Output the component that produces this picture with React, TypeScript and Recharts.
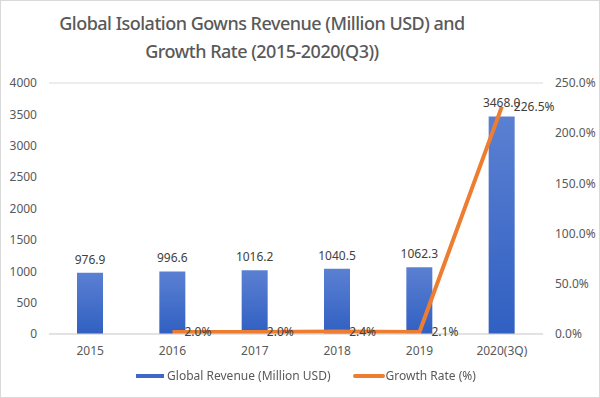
import { ComposedChart, Bar, Line, XAxis, YAxis, CartesianGrid, LabelList } from "recharts";

const years = ["2015", "2016", "2017", "2018", "2019", "2020(3Q)"];
const revenue = [976.9, 996.6, 1016.2, 1040.5, 1062.3, 3468.0];
const growth = [null, 2.0, 2.0, 2.4, 2.1, 226.5];
const leftTicks = [0, 500, 1000, 1500, 2000, 2500, 3000, 3500, 4000];
const rightTicks = [0, 50, 100, 150, 200, 250];

const data = years.map((y, i) => ({ year: y, revenue: revenue[i], growth: growth[i] }));

const FONT = "'Noto Sans', 'Liberation Sans', sans-serif";
const TXT = "#595959";

export default function App() {
  return (
    <div style={{ position: "fixed", left: 0, top: 0, width: 598, height: 396, border: "1px solid #d9d9d9", background: "#fff", fontFamily: FONT }}>
      <div style={{ position: "absolute", top: 8, left: 0, width: 522, textAlign: "center", fontSize: 18, fontWeight: 500, letterSpacing: -0.5, color: TXT, lineHeight: "28px" }}>
        Global Isolation Gowns Revenue (Million USD) and<br />Growth Rate (2015-2020(Q3))
      </div>
      <ComposedChart width={598} height={396} data={data} margin={{ top: 82, right: 0, bottom: 43, left: 0 }}>
        <defs>
          <linearGradient id="barGrad" x1="0" y1="0" x2="0" y2="1">
            <stop offset="0%" stopColor="#5b80d2" />
            <stop offset="100%" stopColor="#3060c2" />
          </linearGradient>
        </defs>
        <CartesianGrid vertical={false} stroke="#d9d9d9" />
        <XAxis dataKey="year" axisLine={{ stroke: "#d9d9d9" }} tickLine={false} tick={{ fill: TXT, fontSize: 12, fontFamily: FONT }} tickMargin={6} height={20} />
        <YAxis yAxisId="l" domain={[0, 4000]} ticks={leftTicks} axisLine={false} tickLine={false} width={48} tick={{ fill: TXT, fontSize: 12, fontFamily: FONT }} tickMargin={6} />
        <YAxis yAxisId="r" orientation="right" domain={[0, 250]} ticks={rightTicks} axisLine={false} tickLine={false} width={56} tick={{ fill: TXT, fontSize: 12, fontFamily: FONT }} tickMargin={6} tickFormatter={(v: number) => `${v.toFixed(1)}%`} />
        <Bar yAxisId="l" dataKey="revenue" barSize={26} fill="url(#barGrad)" isAnimationActive={false}>
          <LabelList dataKey="revenue" position="top" offset={9} fill="#404040" fontSize={12} fontFamily={FONT} formatter={(v: number) => v.toFixed(1)} />
        </Bar>
        <Line yAxisId="r" dataKey="growth" stroke="#ed7d31" strokeWidth={4} dot={false} isAnimationActive={false} connectNulls={false}>
          <LabelList dataKey="growth" position="right" offset={12} fill="#404040" fontSize={12} fontFamily={FONT} formatter={(v: any) => (v == null ? "" : `${Number(v).toFixed(1)}%`)} />
        </Line>
      </ComposedChart>
      <div style={{ position: "absolute", top: 366, left: 6, width: 598, display: "flex", justifyContent: "center", gap: 22, fontSize: 12, color: TXT }}>
        <span style={{ display: "flex", alignItems: "center" }}>
          <span style={{ display: "inline-block", width: 28, height: 4, background: "#3d68c8", marginRight: 3 }} />Global Revenue (Million USD)
        </span>
        <span style={{ display: "flex", alignItems: "center" }}>
          <span style={{ display: "inline-block", width: 32, height: 4, background: "#ed7d31", borderRadius: 2, marginRight: 1 }} />Growth Rate (%)
        </span>
      </div>
    </div>
  );
}
